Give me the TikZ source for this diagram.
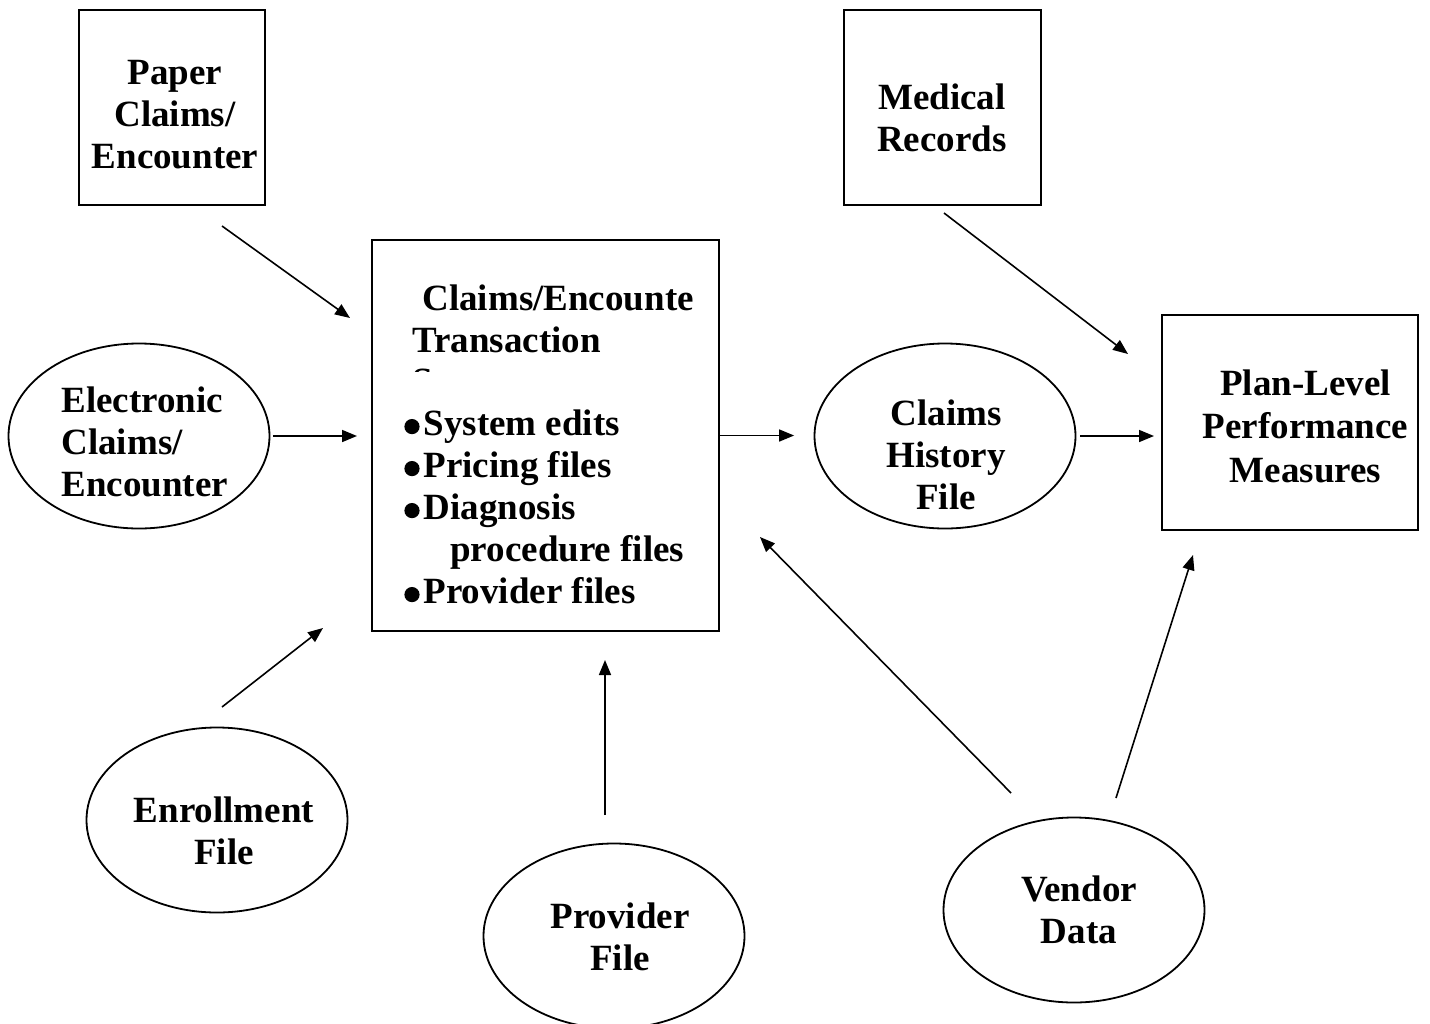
\documentclass[tikz,border=0pt]{standalone}
\usepackage{fontspec}
\setmainfont{Liberation Serif}
\usetikzlibrary{shapes.geometric,arrows.meta}

\newcommand{\bul}{\tikz[baseline=-4.5pt]\fill (0,0) circle[radius=3.8pt];\hspace{2pt}}

\tikzset{
  box/.style={draw,line width=1pt,inner sep=0pt},
  oval/.style={draw,ellipse,line width=0.9pt,inner sep=0pt,minimum width=130.5pt,minimum height=92.5pt},
  lbl/.style={inner sep=0pt,align=center},
  arr/.style={-{Triangle[length=7.5pt,width=6pt]},line width=0.8pt}
}

\begin{document}
\begin{tikzpicture}[x=0.5pt,y=-0.5pt,font=\bfseries\fontsize{18.5}{21}\selectfont]
\useasboundingbox (0,0) rectangle (1430,1023);
% boxes
\node[box,minimum width=93pt,minimum height=97.5pt] (paper) at (172,107.5) {};
\node[box,minimum width=98.5pt,minimum height=97.5pt] (medrec) at (942.5,107.5) {};
\node[box,minimum width=173.5pt,minimum height=195.5pt] (txbox) at (545.5,435.5) {};
\node[box,minimum width=128pt,minimum height=107.5pt] (plan) at (1290,422.5) {};
% ovals
\node[oval] (elec) at (139,436) {};
\node[oval] (enroll) at (217,820) {};
\node[oval] (prov) at (614,936) {};
\node[oval] (vend) at (1074,910) {};
\node[oval] (chf) at (945,436) {};
% texts
\node[lbl] (papertxt) at (175,115) {Paper\\Claims/\\Encounter};
\node[lbl] (medtxt) at (942,117.5) {Medical\\Records};
\node[lbl,align=left,anchor=west] (electxt) at (61,441.5) {Electronic\\Claims/\\Encounter};
\node[lbl] (enrtxt) at (224,831) {Enrollment\\File};
\node[lbl] (provtxt) at (620,936.5) {Provider\\File};
\node[lbl] (vendtxt) at (1079,910) {Vendor\\Data};
\node[lbl] (chftxt) at (946,454.5) {Claims\\History\\File};
\node[lbl,font=\bfseries\fontsize{18.5}{21.75}\selectfont] (plantxt) at (1305.5,426) {Plan-Level\\Performance\\Measures};
\node[lbl,align=left,anchor=north west] (txtitle) at (412,284) {\hspace*{5pt}Claims/Encounte\\Transaction};
\begin{scope}
\clip (400,360) rectangle (460,371);
\node[lbl,anchor=base west] (txcut) at (412,393) {System};
\end{scope}
\node[lbl,align=left,anchor=north west] (txlist) at (404,409.5)
  {\bul System edits\\\bul Pricing files\\\bul Diagnosis\\\hspace*{23pt}procedure files\\\bul Provider files};
% arrows
\coordinate (a1) at (222,226); \coordinate (b1) at (350,318);
\coordinate (a3) at (222,707); \coordinate (b3) at (323,628);
\coordinate (a4) at (605,815); \coordinate (b4) at (605,660);
\coordinate (a6) at (1011,793); \coordinate (b6) at (760,537);
\coordinate (a7) at (944,213); \coordinate (b7) at (1128,354);
\coordinate (a9) at (1116,798); \coordinate (b9) at (1193,555);
\draw[arr] (a1) -- (b1);
\draw[arr,shorten <=1.25pt,shorten >=7pt] (elec.east) -- (elec.east -| txbox.west);
\draw[arr] (a3) -- (b3);
\draw[arr] (a4) -- (b4);
\draw[arr,shorten >=9.75pt] (txbox.east) -- (txbox.east -| chf.west);
\draw[arr] (a6) -- (b6);
\draw[arr] (a7) -- (b7);
\draw[arr,shorten <=2pt,shorten >=3.5pt] (chf.east) -- (chf.east -| plan.west);
\draw[arr] (a9) -- (b9);
\end{tikzpicture}
\end{document}
